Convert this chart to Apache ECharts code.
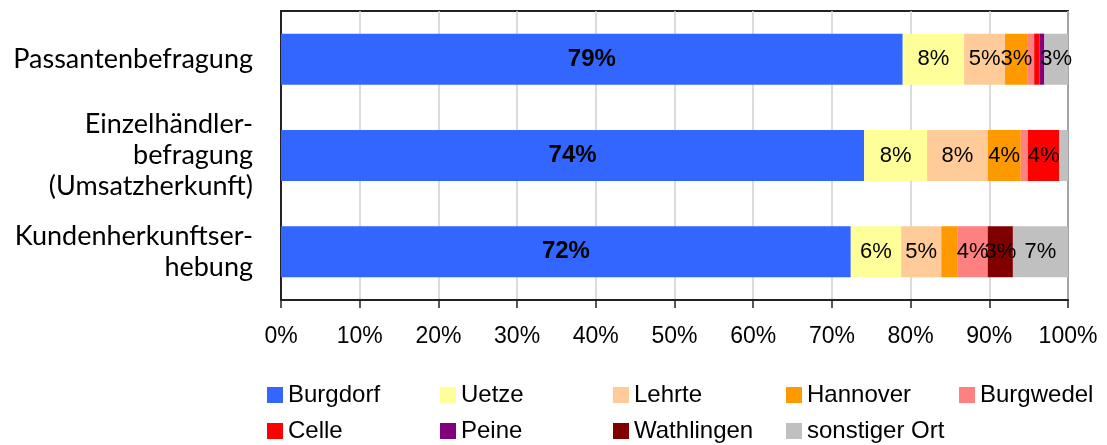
<!DOCTYPE html>
<html>
<head>
<meta charset="utf-8">
<script src="https://cdn.jsdelivr.net/npm/echarts@6/dist/echarts.min.js"></script>
<style>html,body{margin:0;padding:0;background:#fff;}#c{width:1107px;height:445px;}</style>
</head>
<body>
<div id="c"></div>
<script>
const categories = ['Passantenbefragung', 'Einzelhändler-\nbefragung\n(Umsatzherkunft)', 'Kundenherkunftser-\nhebung'];
const seriesNames = ['Burgdorf', 'Uetze', 'Lehrte', 'Hannover', 'Burgwedel', 'Celle', 'Peine', 'Wathlingen', 'sonstiger Ort'];
const burgdorf = [79.0, 74.1, 72.4];
const uetze = [7.8, 8.0, 6.4];
const lehrte = [5.2, 7.7, 5.1];
const hannover = [2.9, 4.2, 2.1];
const burgwedel = [0.8, 0.9, 3.8];
const celle = [0.7, 4.0, 0];
const peine = [0.6, 0, 0];
const wathlingen = [0, 0, 3.2];
const sonstiger = [3.0, 1.1, 7.0];
const tickLabels = ['0%', '10%', '20%', '30%', '40%', '50%', '60%', '70%', '80%', '90%', '100%'];
const colors = ['#3366FF', '#FFFF99', '#FFCC99', '#FF9900', '#FF8080', '#FF0000', '#800080', '#800000', '#C0C0C0'];

const values = [burgdorf, uetze, lehrte, hannover, burgwedel, celle, peine, wathlingen, sonstiger];

const chart = echarts.init(document.getElementById('c'));
const series = seriesNames.map((name, i) => ({
  name: name,
  type: 'bar',
  stack: 'total',
  barWidth: '53%',
  data: values[i],
  itemStyle: { color: colors[i] },
  label: {
    show: true,
    position: 'inside',
    color: '#000',
    fontFamily: 'Liberation Sans',
    fontSize: i === 0 ? 24 : 22,
    fontWeight: i === 0 ? 'bold' : 'normal',
    formatter: p => p.value >= 2.5 ? Math.round(p.value) + '%' : ''
  }
}));

chart.setOption({
  animation: false,
  color: colors,
  grid: { left: 281, right: 39, top: 11, bottom: 145, show: true, borderColor: '#222', borderWidth: 2, backgroundColor: 'transparent' },
  xAxis: {
    type: 'value', min: 0, max: 100, interval: 10,
    axisLine: { show: true, lineStyle: { color: '#222', width: 2 } },
    axisTick: { show: true, length: 8, lineStyle: { color: '#222', width: 1.5 } },
    splitLine: { show: true, lineStyle: { color: '#cfcfcf', width: 1.5 } },
    axisLabel: { margin: 25, fontFamily: 'Liberation Sans', fontSize: 23, color: '#000',
      formatter: v => tickLabels[Math.round(v / 10)] }
  },
  yAxis: {
    type: 'category', data: categories, inverse: true,
    axisLine: { show: true, lineStyle: { color: '#222', width: 2 } },
    axisTick: { show: false },
    axisLabel: { margin: 28, fontFamily: 'Lato', fontSize: 27, lineHeight: 31, color: '#000', align: 'right' }
  },
  legend: {
    left: 262, top: 376, width: 870,
    itemWidth: 16, itemHeight: 16, itemGap: 8,
    icon: 'rect',
    textStyle: { fontFamily: 'Liberation Sans', fontSize: 24, color: '#000', width: 144, lineHeight: 28 },
    data: seriesNames
  },
  series: series
});
</script>
</body>
</html>
